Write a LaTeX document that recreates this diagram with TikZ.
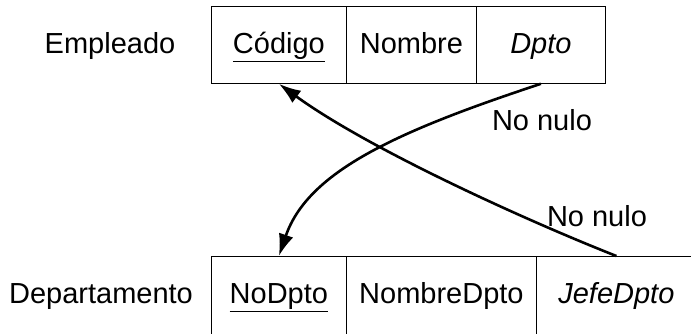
\documentclass[tikz,border=0pt]{standalone}
\usepackage{fontspec}
\setmainfont{Liberation Sans}
\usetikzlibrary{arrows.meta}
\begin{document}
\begin{tikzpicture}[x=1pt,y=-1pt,
  txt/.style={font=\fontsize{29}{34}\selectfont},
  cell/.style={txt, draw, line width=0.8pt, minimum height=77pt, text height=20pt, text depth=3pt, inner sep=0pt, anchor=north west},
  lbl/.style={txt, anchor=base, inner sep=0pt},
  conn/.style={line width=2.6pt, -{Latex[length=22pt,width=15pt]}}]
\path[use as bounding box, clip] (0,0) rectangle (691,333);
% Empleado
\node[lbl] (emp) at (110,53) {Empleado};
\node[cell, minimum width=135pt] (codigo) at (211,6) {\underline{Código}};
\node[cell, minimum width=130pt] (nombre) at (346,6) {Nombre};
\node[cell, minimum width=129pt] (dpto) at (476,6) {\textit{Dpto}};
% Departamento
\node[lbl] (dep) at (101,303.5) {Departamento};
\node[cell, minimum height=78pt, minimum width=135pt] (nodpto) at (211,256) {\underline{NoDpto}};
\node[cell, minimum height=78pt, minimum width=190pt] (nombredpto) at (346,256) {NombreDpto};
\node[cell, minimum height=78pt, minimum width=160pt] (jefe) at (536,256) {\textit{JefeDpto}};
% connectors
\draw[conn] (dpto.south) .. controls (398,131) and (308,171) .. (nodpto.north);
\draw[conn] (jefe.north) .. controls (530,222) and (370,150) .. (codigo.south);
% labels
\node[lbl] (nn1) at (542,130) {No nulo};
\node[lbl] (nn2) at (597,226) {No nulo};
\end{tikzpicture}
\end{document}
